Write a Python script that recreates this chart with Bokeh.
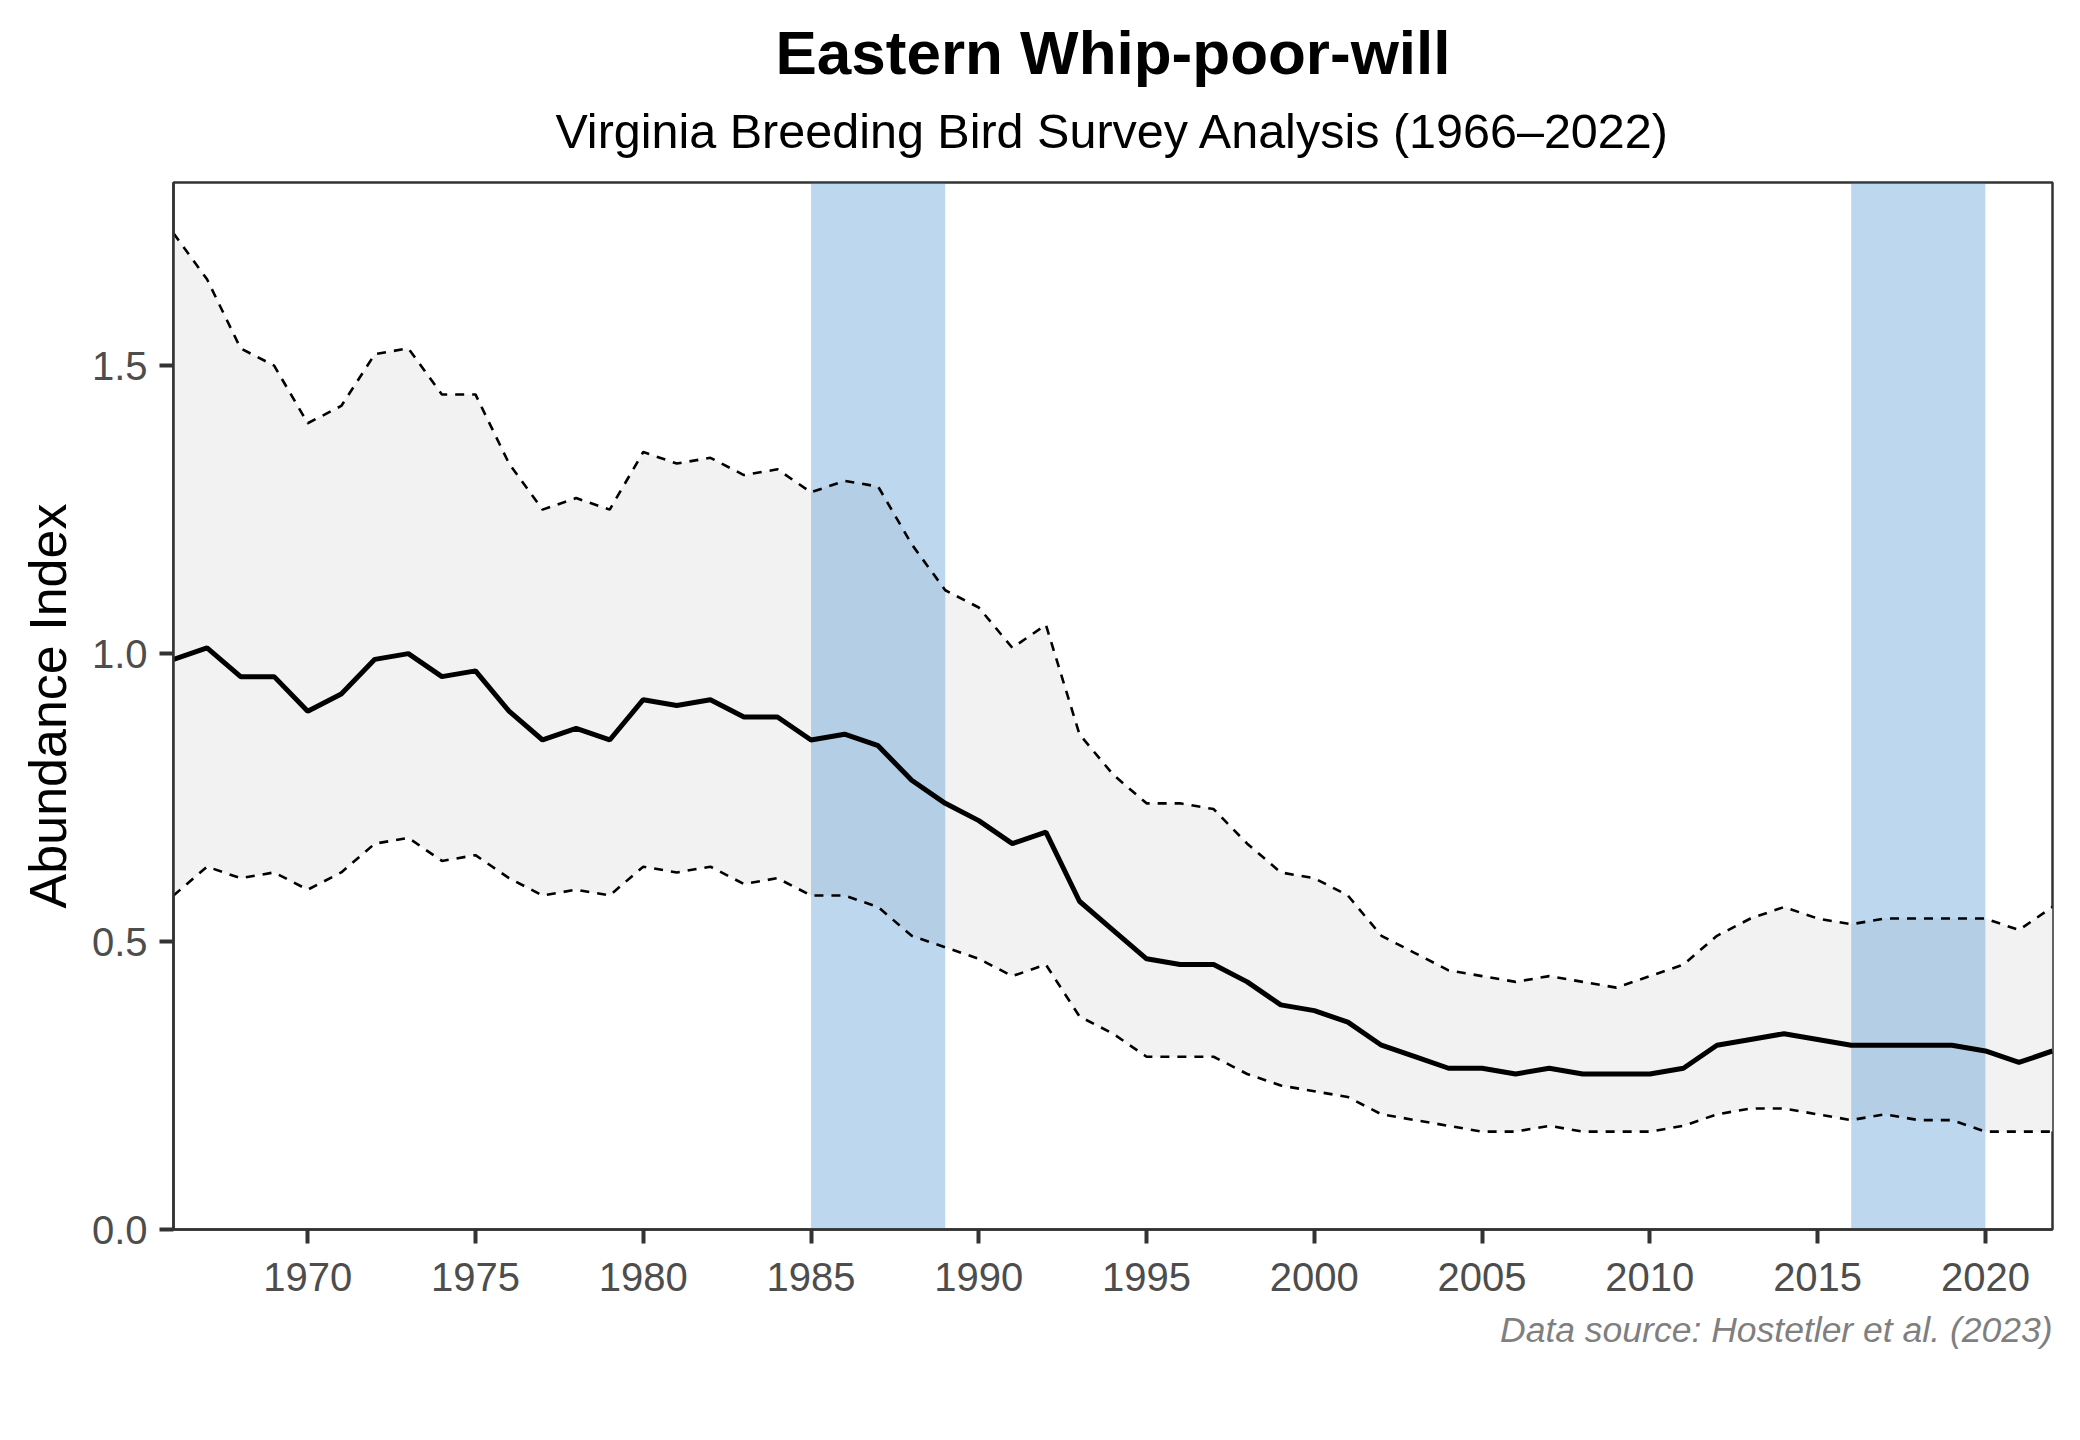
from bokeh.plotting import figure
from bokeh.models import Range1d, FixedTicker, PrintfTickFormatter, Title, ColumnDataSource
from bokeh.embed import file_html
from bokeh.resources import INLINE

# ---------------- data ----------------
years = list(range(1966, 2023))
index_mid = [0.99, 1.01, 0.96, 0.96, 0.90, 0.93, 0.99, 1.00, 0.96, 0.97,
             0.90, 0.85, 0.87, 0.85, 0.92, 0.91, 0.92, 0.89, 0.89, 0.85,
             0.86, 0.84, 0.78, 0.74, 0.71, 0.67, 0.69, 0.57, 0.52, 0.47,
             0.46, 0.46, 0.43, 0.39, 0.38, 0.36, 0.32, 0.30, 0.28, 0.28,
             0.27, 0.28, 0.27, 0.27, 0.27, 0.28, 0.32, 0.33, 0.34, 0.33,
             0.32, 0.32, 0.32, 0.32, 0.31, 0.29, 0.31]
index_upper = [1.73, 1.65, 1.53, 1.50, 1.40, 1.43, 1.52, 1.53, 1.45, 1.45,
               1.33, 1.25, 1.27, 1.25, 1.35, 1.33, 1.34, 1.31, 1.32, 1.28,
               1.30, 1.29, 1.19, 1.11, 1.08, 1.01, 1.05, 0.86, 0.79, 0.74,
               0.74, 0.73, 0.67, 0.62, 0.61, 0.58, 0.51, 0.48, 0.45, 0.44,
               0.43, 0.44, 0.43, 0.42, 0.44, 0.46, 0.51, 0.54, 0.56, 0.54,
               0.53, 0.54, 0.54, 0.54, 0.54, 0.52, 0.56]
index_lower = [0.58, 0.63, 0.61, 0.62, 0.59, 0.62, 0.67, 0.68, 0.64, 0.65,
               0.61, 0.58, 0.59, 0.58, 0.63, 0.62, 0.63, 0.60, 0.61, 0.58,
               0.58, 0.56, 0.51, 0.49, 0.47, 0.44, 0.46, 0.37, 0.34, 0.30,
               0.30, 0.30, 0.27, 0.25, 0.24, 0.23, 0.20, 0.19, 0.18, 0.17,
               0.17, 0.18, 0.17, 0.17, 0.17, 0.18, 0.20, 0.21, 0.21, 0.20,
               0.19, 0.20, 0.19, 0.19, 0.17, 0.17, 0.17]
band_start = [1985, 2016]
band_end = [1989, 2020]
x_ticks = [1970, 1975, 1980, 1985, 1990, 1995, 2000, 2005, 2010, 2015, 2020]
y_ticks = [0.0, 0.5, 1.0, 1.5]

title_text = "Eastern Whip-poor-will"
subtitle_text = "Virginia Breeding Bird Survey Analysis (1966\u20132022)"
caption_text = "Data source: Hostetler et al. (2023)"
y_label = "Abundance Index"

FONT = "Liberation Sans"
DARK = "#333333"

# ---------------- figure ----------------
p = figure(width=2078, height=1438, output_backend="svg", toolbar_location=None,
           x_range=Range1d(1966, 2022), y_range=Range1d(0, 1.818),
           min_border_left=173, min_border_right=26,
           min_border_top=182, min_border_bottom=209)
p.title = None
p.background_fill_color = "white"
p.border_fill_color = "white"
p.outline_line_color = DARK
p.outline_line_width = 2.5
p.xgrid.visible = False
p.ygrid.visible = False

src = ColumnDataSource(dict(year=years, mid=index_mid, up=index_upper, lo=index_lower))
bands = ColumnDataSource(dict(left=band_start, right=band_end,
                              bottom=[0] * len(band_start), top=[2] * len(band_start)))

p.varea(x="year", y1="lo", y2="up", source=src, fill_color="#F2F2F2")
p.quad(left="left", right="right", bottom="bottom", top="top", source=bands,
       fill_color="#237AC6", fill_alpha=0.3, line_color=None)
p.line(x="year", y="up", source=src, line_color="black", line_width=2.6, line_dash="9 8")
p.line(x="year", y="lo", source=src, line_color="black", line_width=2.6, line_dash="9 8")
p.line(x="year", y="mid", source=src, line_color="black", line_width=5)

# axes
for ax in (p.xaxis[0], p.yaxis[0]):
    ax.axis_line_color = DARK
    ax.axis_line_width = 2.5
    ax.major_tick_line_color = DARK
    ax.major_tick_line_width = 4
    ax.major_tick_in = 0
    ax.major_tick_out = 14
    ax.minor_tick_line_color = None
    ax.major_label_text_font = FONT
    ax.major_label_text_font_size = "40px"
    ax.major_label_text_color = "#4D4D4D"

p.xaxis[0].ticker = FixedTicker(ticks=x_ticks)
p.xaxis[0].major_label_standoff = 19
p.yaxis[0].ticker = FixedTicker(ticks=y_ticks)
p.yaxis[0].formatter = PrintfTickFormatter(format="%.1f")
p.yaxis[0].major_label_standoff = 12
p.yaxis[0].axis_label = y_label
p.yaxis[0].axis_label_text_font = FONT
p.yaxis[0].axis_label_text_font_size = "52px"
p.yaxis[0].axis_label_text_font_style = "normal"
p.yaxis[0].axis_label_text_color = "black"
p.yaxis[0].axis_label_standoff = 12

# titles (stacked outward from the frame) and caption
p.add_layout(Title(text=subtitle_text, align="center", vertical_align="bottom",
                   standoff=49, text_font=FONT, text_font_size="48.5px",
                   text_font_style="normal", text_color="black"), "above")
p.add_layout(Title(text=title_text, align="center", vertical_align="bottom",
                   standoff=-19, text_font=FONT, text_font_size="62px",
                   text_font_style="bold", text_color="black"), "above")
p.add_layout(Title(text=caption_text, align="right", vertical_align="top",
                   standoff=32, text_font=FONT, text_font_size="35.5px",
                   text_font_style="italic", text_color="#7F7F7F"), "below")

open("out.html", "w").write(file_html(p, INLINE))
